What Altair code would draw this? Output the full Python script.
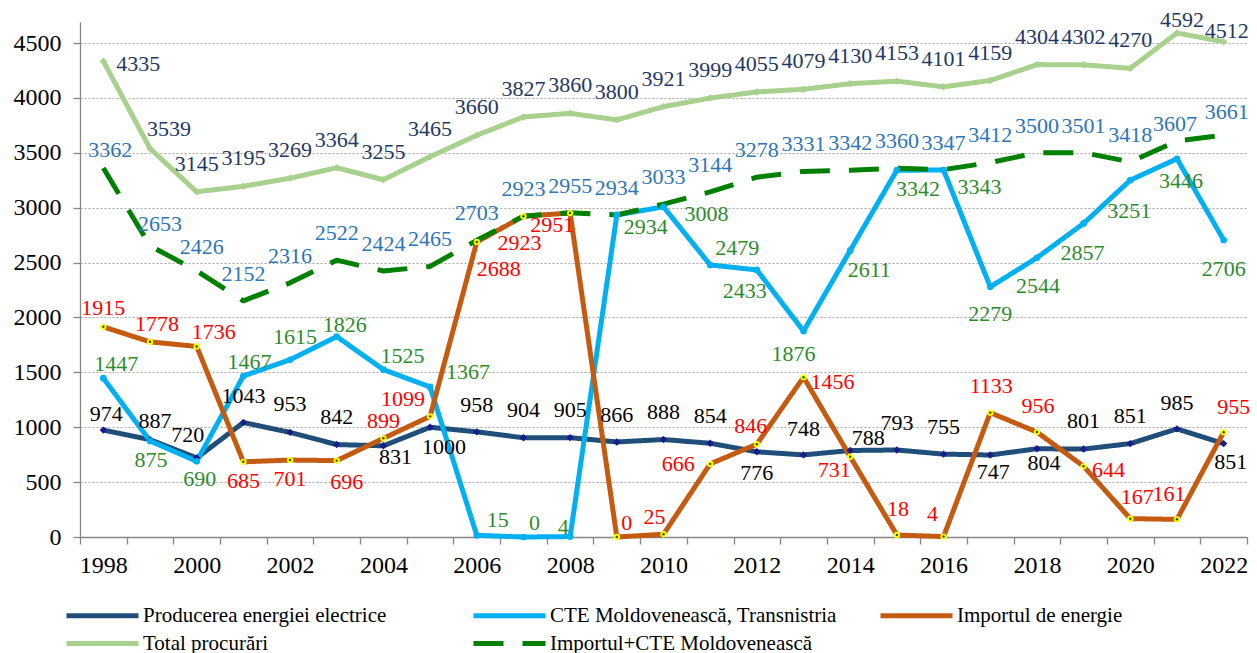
import altair as alt
import pandas as pd

# ---------------- data ----------------
years = list(range(1998, 2023))

producerea = [974, 887, 720, 1043, 953, 842, 831, 1000, 958, 904, 905, 866, 888,
              854, 776, 748, 788, 793, 755, 747, 804, 801, 851, 985, 851]
cte = [1447, 875, 690, 1467, 1615, 1826, 1525, 1367, 15, 0, 4, 2934, 3008,
       2479, 2433, 1876, 2611, 3342, 3343, 2279, 2544, 2857, 3251, 3446, 2706]
importul = [1915, 1778, 1736, 685, 701, 696, 899, 1099, 2688, 2923, 2951, 0, 25,
            666, 846, 1456, 731, 18, 4, 1133, 956, 644, 167, 161, 955]
total = [4335, 3539, 3145, 3195, 3269, 3364, 3255, 3465, 3660, 3827, 3860, 3800, 3921,
         3999, 4055, 4079, 4130, 4153, 4101, 4159, 4304, 4302, 4270, 4592, 4512]
import_cte = [3362, 2653, 2426, 2152, 2316, 2522, 2424, 2465, 2703, 2923, 2955, 2934, 3033,
              3144, 3278, 3331, 3342, 3360, 3347, 3412, 3500, 3501, 3418, 3607, 3661]

names = ["Producerea energiei electrice", "CTE Moldovenească, Transnistria",
         "Importul de energie", "Total procurări", "Importul+CTE Moldovenească"]
series_values = [producerea, cte, importul, total, import_cte]

# ---------------- styles ----------------
line_colors = ["#1F4E79", "#00B0F0", "#C55A11", "#A9D18E", "#008000"]
label_colors = ["#000000", "#2E8B2E", "#FF0000", "#1F3864", "#2E75B6"]
dashes = [[1, 0], [1, 0], [1, 0], [1, 0], [30, 19]]
# legend fills column by column: this order gives the reference's 3-column layout
legend_order = [0, 3, 1, 4, 2]

# label offsets in pixels (dx, dy) for each point
off_prod = [(3, -16), (5, -19), (-9, -23), (0, -27), (0, -28), (0, -28), (12, 11), (14, 20),
            (0, -27), (0, -28), (0, -28), (0, -27), (0, -28), (0, -27), (0, 21), (0, -26),
            (18, -13), (0, -27), (0, -27), (3, 17), (7, 14), (0, -28), (0, -28), (0, -26), (7, 18)]
off_cte = [(13, -14), (1, 19), (3, 18), (6, -14), (5, -23), (8, -12), (19, -14), (38, -15),
           (21, -15), (11, -14), (-7, -10), (29, 12), (43, 7), (27, -17), (-12, 21), (-10, 23),
           (19, 20), (21, 19), (36, 17), (0, 27), (1, 28), (-1, 30), (-1, 31), (4, 22), (0, 29)]
off_imp = [(0, -19), (7, -18), (17, -14), (0, 19), (0, 19), (10, 21), (0, -17), (-27, -17),
           (22, 27), (-4, 27), (-18, 12), (10, -14), (-9, -17), (-32, 0), (-6, -18), (29, 5),
           (-16, 13), (1, -26), (-11, -23), (1, -27), (1, -26), (25, 4), (7, -22), (-8, -25), (10, -25)]
off_tot = [(35, 3), (19, -20)] + [(0, -28)] * 21 + [(5, -13), (3, -11)]
off_ic = [(7, -18), (10, -22), (5, -24)] + [(0, -27)] * 20 + [(-2, -17), (3, -23)]
offsets = [off_prod, off_cte, off_imp, off_tot, off_ic]

W, H = 1167, 515
YMAX = 4692
PX_YEAR = W / 25.0
PX_UNIT = H / YMAX
FONT = "Liberation Serif, Times New Roman, Times, serif"

rows, lab_rows = [], []
for name, vals, offs in zip(names, series_values, offsets):
    for yr, v, (dx, dy) in zip(years, vals, offs):
        rows.append({"series": name, "x": yr, "y": v})
        lab_rows.append({"series": name, "x": yr + dx / PX_YEAR, "y": v - dy / PX_UNIT,
                         "label": str(v)})
df = pd.DataFrame(rows)
df_lab = pd.DataFrame(lab_rows)

xscale = alt.Scale(domain=[1997.5, 2022.5], nice=False, zero=False)
yscale = alt.Scale(domain=[0, YMAX], nice=False, zero=True)

xaxis = alt.Axis(
    values=[1997.5 + i for i in range(26)],
    labelExpr="((datum.value + 0.5) % 2 == 0 && datum.value < 2022) ? '' + (datum.value + 0.5) : ''",
    labelOffset=PX_YEAR / 2, labelFlush=False, labelOverlap=False, labelBound=False,
    tickSize=7, tickColor="#868686", domainColor="#868686", domainWidth=1.3, tickWidth=1.3,
    labelFont=FONT, labelFontSize=24, labelColor="black", labelPadding=9,
    grid=False, title=None,
)
yaxis = alt.Axis(
    values=list(range(0, 4501, 500)), format="d", tickSize=7, tickColor="#868686",
    domainColor="#868686", domainWidth=1.3, tickWidth=1.3,
    labelFont=FONT, labelFontSize=24, labelColor="black", labelPadding=12,
    grid=True, gridColor="#A6A6A6", gridDash=[2, 2], gridWidth=1, title=None,
)

X = alt.X("x:Q", scale=xscale, axis=xaxis)
Y = alt.Y("y:Q", scale=yscale, axis=yaxis)

dom = [names[i] for i in legend_order]

legend = alt.Legend(
    orient="none", legendX=8, legendY=579, columns=3, title=None,
    symbolType="M-3,0L3,0", symbolSize=576, symbolStrokeWidth=5,
    labelFont=FONT, labelFontSize=21, labelColor="black", labelOffset=26,
    gridAlign="all", columnPadding=33, rowPadding=3, padding=0, labelLimit=0,
)

lines = alt.Chart(df).mark_line(strokeWidth=5, strokeJoin="round", strokeCap="butt").encode(
    x=X, y=Y,
    color=alt.Color("series:N", scale=alt.Scale(domain=dom, range=[line_colors[i] for i in legend_order]),
                    legend=legend),
    strokeDash=alt.StrokeDash("series:N", scale=alt.Scale(domain=dom, range=[dashes[i] for i in legend_order]),
                              legend=legend),
)

def markers(name, shape, size, fill):
    return alt.Chart(df[df.series == name]).mark_point(
        shape=shape, size=size, filled=True, fill=fill, opacity=1, strokeWidth=0
    ).encode(x=X, y=Y)

m_prod = markers(names[0], "diamond", 55, "#1A1A8C")
m_cte = markers(names[1], "circle", 45, "#00B0F0")
m_tot = markers(names[3], "diamond", 55, "#A9D18E")
m_imp = markers(names[2], "circle", 40, "#FFFF00")
m_imp_dot = markers(names[2], "circle", 6, "#1E5E1E")

label_layers = [
    alt.Chart(df_lab[df_lab.series == name]).mark_text(
        font=FONT, fontSize=22, align="center", baseline="middle", color=lc
    ).encode(x=X, y=Y, text="label:N")
    for name, lc in zip(names, label_colors)
]

chart = alt.layer(lines, m_prod, m_cte, m_tot, m_imp, m_imp_dot, *label_layers).properties(
    width=W, height=H,
    padding={"left": 72, "top": 14, "right": 2, "bottom": 116},
    autosize=alt.AutoSizeParams(type="none"),
    background="white",
).configure_view(stroke=None)

chart.save("out.html", embed_options={"renderer": "svg", "actions": False})
